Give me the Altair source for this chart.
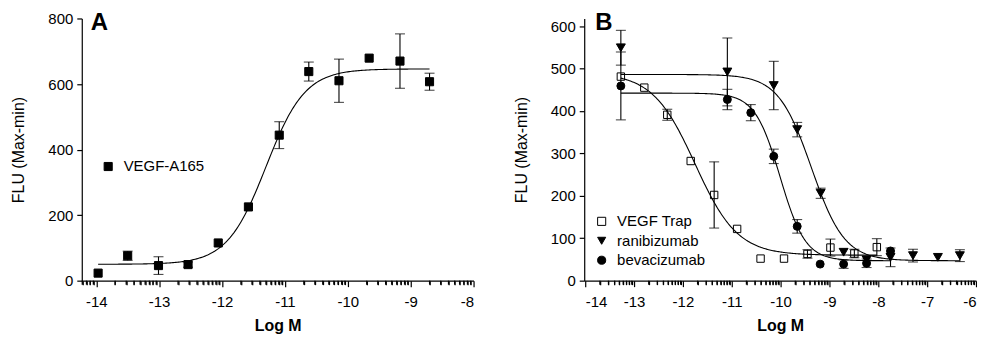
import altair as alt
import numpy as np
import pandas as pd

FONT = "Liberation Sans"

# ---------------- Panel A : VEGF-A165 ----------------
a_name = "VEGF-A165"
a_logm = [-13.97, -13.50, -13.01, -12.54, -12.06, -11.58, -11.09, -10.62, -10.14, -9.66, -9.17, -8.70]
a_flu = [23, 76, 46, 49, 115, 225, 444, 638, 610, 679, 670, 607]
a_err = [0, 14, 27, 8, 0, 0, 41, 29, 66, 0, 83, 26]
# 4PL fit: bottom, top, logEC50, hill
a_fit = [50, 646, -11.30, 1.4]

# ---------------- Panel B : inhibitors ----------------
b_names = ["VEGF Trap", "ranibizumab", "bevacizumab"]
b_shapes = ["square", "triangle-down", "circle"]
b_fills = ["white", "black", "black"]
b_sizes = [55, 80, 64]

trap_logm = [-13.27, -12.79, -12.32, -11.84, -11.36, -10.89, -10.41, -9.93, -9.45, -8.98, -8.49, -8.03]
trap_flu = [481, 455, 391, 282, 202, 122, 52, 52, 63, 78, 64, 79]
trap_err = [0, 0, 13, 0, 78, 0, 0, 0, 10, 20, 10, 20]
trap_fit = [60, 490, -11.75, -1.0]

rani_logm = [-13.27, -11.09, -10.14, -9.66, -9.18, -8.71, -8.24, -7.75, -7.29, -6.78, -6.33]
rani_flu = [549, 492, 460, 356, 206, 67, 49, 55, 59, 55, 59]
rani_err = [41, 80, 57, 17, 12, 0, 0, 22, 15, 0, 14]
rani_fit = [47, 486, -9.37, -1.28]

beva_logm = [-13.27, -11.09, -10.61, -10.14, -9.66, -9.19, -8.71, -8.24, -7.75]
beva_flu = [459, 427, 396, 293, 128, 39, 39, 41, 70]
beva_err = [80, 24, 19, 17, 16, 0, 10, 10, 0]
beva_fit = [47, 442, -10.01, -1.68]

# x-axis tick positions: integer decades plus log minor ticks inside each decade
minor_steps = [2, 3, 4, 5, 6, 7, 8, 9]

W, H = 393, 263


def points_df(name, xs, ys, es):
    df = pd.DataFrame({"series": name, "logm": xs, "flu": ys, "err": es})
    df["lo"] = df["flu"] - df["err"]
    df["hi"] = df["flu"] + df["err"]
    return df


def fit_df(name, params, xs):
    bottom, top, ec, hill = params
    grid = np.linspace(min(xs), max(xs), 240)
    vals = bottom + (top - bottom) / (1 + 10 ** ((ec - grid) * hill))
    return pd.DataFrame({"series": name, "logm": grid, "flu": vals})


def minor_ticks(lo, hi):
    out = []
    for d in range(int(np.floor(lo)), int(np.ceil(hi))):
        for k in minor_steps:
            v = d + float(np.log10(k))
            if lo <= v <= hi:
                out.append(round(v, 4))
    return out


def make_panel(pts, fits, names, shapes, fills, sizes, xdom, xmajor, ydom, ymajor,
               legend_x, legend_y, letter, letter_x):
    xs = alt.Scale(domain=xdom, nice=False, zero=False)
    ys = alt.Scale(domain=ydom, nice=False, zero=False)
    is_major = "datum.value == round(datum.value)"
    minor_vals = minor_ticks(xdom[0], xdom[1])
    tick_vals = sorted(list(xmajor) + minor_vals)
    x_axis = alt.Axis(values=tick_vals, title="Log M",
                      tickSize={"condition": {"test": is_major, "value": 6}, "value": 4},
                      labelPadding=8, titlePadding=8, titleFontWeight="bold", grid=False,
                      labelExpr=is_major + " ? '' + datum.value : ''")
    y_axis = alt.Axis(values=ymajor, title="FLU (Max-min)", tickSize=5,
                      labelPadding=4, titlePadding=21, titleFontWeight="normal",
                      grid=False, labelExpr="'' + datum.value")
    X = alt.X("logm:Q", scale=xs, axis=x_axis)
    Y = alt.Y("flu:Q", scale=ys, axis=y_axis)

    legend = alt.Legend(title=None, orient="none", legendX=legend_x, legendY=legend_y,
                        labelFont=FONT, labelFontSize=15, labelColor="black",
                        symbolSize=66, symbolStrokeColor="black", symbolStrokeWidth=1,
                        labelOffset=8, rowPadding=3.5, padding=0)

    layers = []
    for name, size in zip(names, sizes):
        layers.append(
            alt.Chart(pts).transform_filter(alt.datum.series == name).mark_point(
                filled=True, strokeWidth=1, opacity=1, size=size).encode(
                x=X, y=Y,
                shape=alt.Shape("series:N", scale=alt.Scale(domain=names, range=shapes),
                                legend=legend),
                fill=alt.Fill("series:N", scale=alt.Scale(domain=names, range=fills),
                              legend=legend),
                stroke=alt.Stroke("series:N",
                                  scale=alt.Scale(domain=names, range=["black"] * len(names)),
                                  legend=legend),
            )
        )
    errs = pts[pts["err"] > 0]
    layers.append(alt.Chart(errs).mark_rule(color="black", strokeWidth=1.1).encode(
        x=X, y=alt.Y("lo:Q", scale=ys, axis=y_axis), y2="hi:Q"))
    layers.append(alt.Chart(errs).mark_tick(color="black", orient="horizontal", size=10,
                                            thickness=1.1).encode(
        x=X, y=alt.Y("lo:Q", scale=ys, axis=y_axis)))
    layers.append(alt.Chart(errs).mark_tick(color="black", orient="horizontal", size=10,
                                            thickness=1.1).encode(
        x=X, y=alt.Y("hi:Q", scale=ys, axis=y_axis)))
    layers.append(alt.Chart(fits).mark_line(color="black", strokeWidth=1.1).encode(
        x=X, y=Y, detail="series:N"))

    # minor (log) ticks just below the x axis line, as unclipped tick marks
    layers.append(alt.Chart(pd.DataFrame({"logm": minor_vals})).mark_tick(
        color="black", orient="vertical", size=4, thickness=1.3, opacity=1,
        clip=False).encode(
        x=X, y=alt.value(H + 2)))

    layers.append(alt.Chart(pd.DataFrame({"t": [letter]})).mark_text(
        font=FONT, fontSize=24, fontWeight="bold", align="left", baseline="alphabetic",
        color="black").encode(text="t:N", x=alt.value(letter_x), y=alt.value(12)))

    return alt.layer(*layers).properties(width=W, height=H)


ptsA = points_df(a_name, a_logm, a_flu, a_err)
fitA = fit_df(a_name, a_fit, a_logm)
panelA = make_panel(ptsA, fitA, [a_name], ["square"], ["black"], [66],
                    [-14.23, -8], list(range(-14, -7)), [0, 800], [0, 200, 400, 600, 800],
                    19, 141, "A", 9)

ptsB = pd.concat([
    points_df(b_names[0], trap_logm, trap_flu, trap_err),
    points_df(b_names[1], rani_logm, rani_flu, rani_err),
    points_df(b_names[2], beva_logm, beva_flu, beva_err),
], ignore_index=True)
fitB = pd.concat([
    fit_df(b_names[0], trap_fit, trap_logm),
    fit_df(b_names[1], rani_fit, rani_logm),
    fit_df(b_names[2], beva_fit, beva_logm),
], ignore_index=True)
panelB = make_panel(ptsB, fitB, b_names, b_shapes, b_fills, b_sizes,
                    [-14.02, -6], list(range(-14, -5)), [0, 618], [0, 100, 200, 300, 400, 500, 600],
                    10, 196, "B", 11)

chart = alt.hconcat(panelA, panelB, spacing=111, bounds="flush").resolve_scale(
    shape="independent", fill="independent", stroke="independent"
).properties(
    padding={"left": 2, "top": 3, "right": 0, "bottom": 0}
).configure(font=FONT).configure_view(stroke=None, clip=False).configure_axis(
    domainColor="black", domainWidth=1.2, tickColor="black", tickWidth=1.2,
    labelFont=FONT, labelFontSize=15, labelColor="black",
    titleFont=FONT, titleFontSize=16, titleColor="black",
)

chart.save("out.html", embed_options={"renderer": "svg", "actions": False})
